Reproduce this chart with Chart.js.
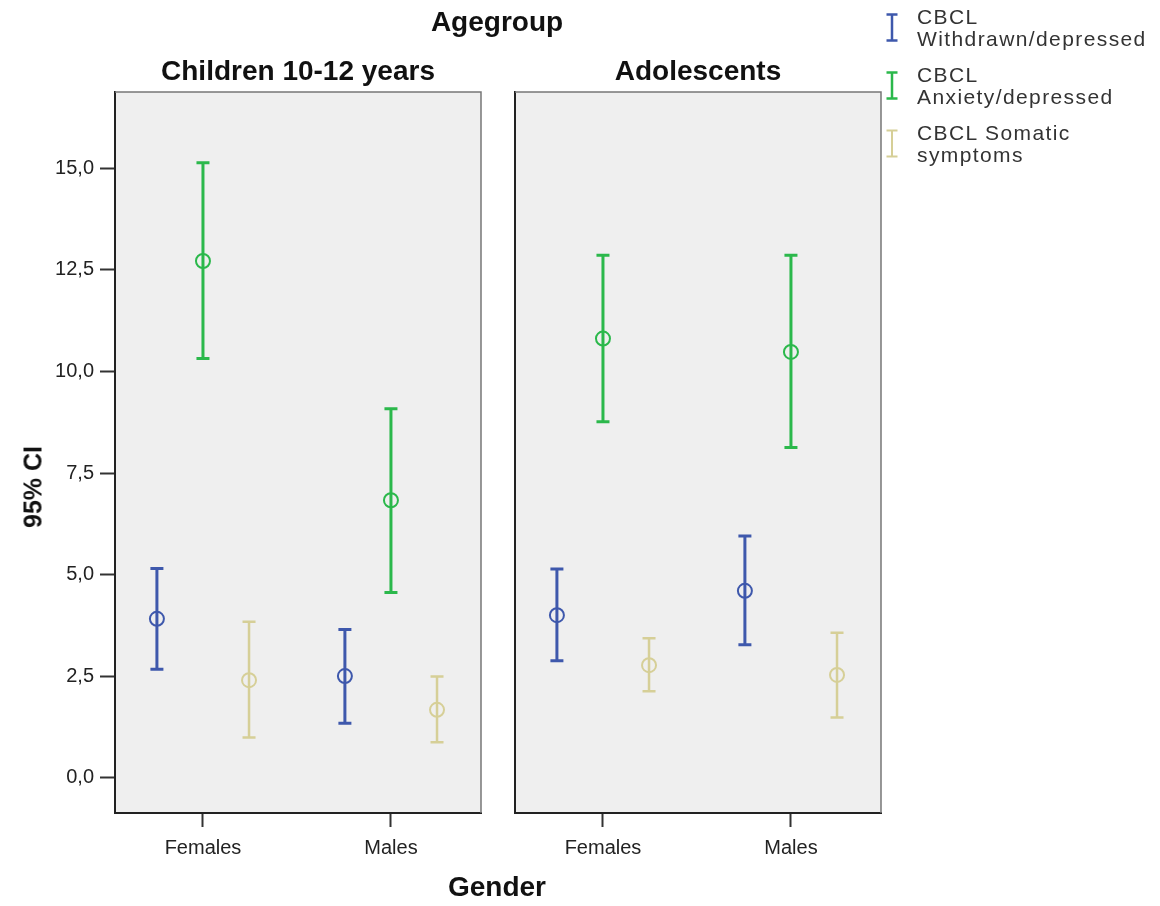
<!DOCTYPE html>
<html>
<head>
<meta charset="utf-8">
<script src="https://cdn.jsdelivr.net/npm/chart.js@4.4.1/dist/chart.umd.min.js"></script>
<style>
  body { margin: 0; background: #fff; }
  #wrap { position: relative; width: 1160px; height: 906px; font-family: "Liberation Sans", Arial, sans-serif; }
  #wrap canvas { position: absolute; top: 0; }
  .t { position: absolute; font-weight: bold; color: #111; white-space: nowrap; line-height: 1; transform: translate(-50%, -50%); }
  .item { position: absolute; left: 885px; }
  .item svg { position: absolute; left: 0; top: 6px; }
  .item span { position: absolute; left: 32px; top: 0; width: 240px; font-size: 21px; line-height: 22px; letter-spacing: 1.4px; color: #333; }
</style>
</head>
<body>
<div id="wrap">
  <canvas id="left" width="490" height="906" style="left:0"></canvas>
  <canvas id="right" width="400" height="906" style="left:490px"></canvas>
  <div class="t" style="left:497px;top:22px;font-size:28px">Agegroup</div>
  <div class="t" id="p0" style="left:298px;top:71px;font-size:28px"></div>
  <div class="t" id="p1" style="left:698px;top:71px;font-size:28px"></div>
  <div class="t" style="left:33px;top:487px;font-size:25px;transform:translate(-50%,-50%) rotate(-90deg)">95% CI</div>
  <div class="t" style="left:497px;top:887px;font-size:28px">Gender</div>
  <div id="legend"></div>
</div>
<script>
const categories = ['Females', 'Males'];
const panels = ['Children 10-12 years', 'Adolescents'];
const seriesNames = ['CBCL Withdrawn/depressed', 'CBCL Anxiety/depressed', 'CBCL Somatic symptoms'];
const seriesColors = ['#3e58ac', '#2bb84b', '#d6cf97'];
const yTicks = [0, 2.5, 5, 7.5, 10, 12.5, 15];

// per series: [Females, Males]
const childMean = [[3.91, 2.50], [12.72, 6.83], [2.40, 1.67]];
const childLow = [[2.67, 1.34], [10.32, 4.56], [0.99, 0.87]];
const childHigh = [[5.15, 3.65], [15.14, 9.08], [3.84, 2.49]];

const adolMean = [[4.00, 4.60], [10.81, 10.48], [2.77, 2.53]];
const adolLow = [[2.88, 3.27], [8.76, 8.13], [2.13, 1.48]];
const adolHigh = [[5.14, 5.95], [12.86, 12.86], [3.43, 3.57]];

const offsets = [-0.245, 0, 0.245];
const lineWidths = [3, 3, 2.5];
const fontFamily = '"Liberation Sans", Arial, sans-serif';

document.getElementById('p0').textContent = panels[0];
document.getElementById('p1').textContent = panels[1];

const panelFrame = {
    id: 'panelFrame',
    beforeDraw(chart) {
        const a = chart.chartArea;
        const ctx = chart.ctx;
        ctx.save();
        ctx.fillStyle = '#efefef';
        ctx.fillRect(a.left, a.top, a.right - a.left, a.bottom - a.top);
        ctx.restore();
    },
    afterDraw(chart) {
        const a = chart.chartArea;
        const ctx = chart.ctx;
        ctx.save();
        ctx.strokeStyle = '#777';
        ctx.lineWidth = 1.5;
        ctx.beginPath();
        ctx.moveTo(a.left, a.top);
        ctx.lineTo(a.right, a.top);
        ctx.lineTo(a.right, a.bottom);
        ctx.stroke();
        ctx.restore();
    }
};

const errorBars = {
    id: 'errorBars',
    beforeDatasetsDraw(chart) {
        const ctx = chart.ctx;
        const y = chart.scales.y;
        chart.data.datasets.forEach((ds, i) => {
            const meta = chart.getDatasetMeta(i);
            ctx.save();
            ctx.strokeStyle = ds.borderColor;
            ctx.lineWidth = ds.barWidth;
            meta.data.forEach((pt, j) => {
                const yl = y.getPixelForValue(ds.low[j]);
                const yh = y.getPixelForValue(ds.high[j]);
                ctx.beginPath();
                ctx.moveTo(pt.x, yl);
                ctx.lineTo(pt.x, yh);
                ctx.moveTo(pt.x - 6.5, yl);
                ctx.lineTo(pt.x + 6.5, yl);
                ctx.moveTo(pt.x - 6.5, yh);
                ctx.lineTo(pt.x + 6.5, yh);
                ctx.stroke();
            });
            ctx.restore();
        });
    }
};

function makePanel(id, mean, low, high, showY) {
    const datasets = seriesNames.map((name, s) => ({
        label: name,
        data: categories.map((c, i) => ({ x: i + offsets[s], y: mean[s][i] })),
        low: low[s],
        high: high[s],
        barWidth: lineWidths[s],
        borderColor: seriesColors[s],
        backgroundColor: 'rgba(0,0,0,0)',
        borderWidth: 2,
        pointRadius: 7,
        showLine: false
    }));
    return new Chart(document.getElementById(id).getContext('2d'), {
        type: 'scatter',
        data: { datasets: datasets },
        plugins: [panelFrame, errorBars],
        options: {
            responsive: false,
            animation: false,
            events: [],
            layout: { padding: { top: 92, right: 9, bottom: 33, left: 0 } },
            plugins: {
                legend: { display: false },
                tooltip: { enabled: false }
            },
            scales: {
                x: {
                    type: 'linear',
                    min: -0.468,
                    max: 1.479,
                    afterBuildTicks: s => { s.ticks = categories.map((c, i) => ({ value: i })); },
                    afterFit: s => { s.height = 60; },
                    grid: { drawOnChartArea: false, drawTicks: true, tickLength: 14, tickWidth: 2, tickColor: '#333' },
                    border: { color: '#222', width: 2 },
                    ticks: {
                        color: '#222',
                        font: { family: fontFamily, size: 20 },
                        padding: 9,
                        maxRotation: 0,
                        autoSkip: false,
                        callback: v => categories[v]
                    }
                },
                y: {
                    min: -0.87,
                    max: 16.88,
                    afterBuildTicks: s => { s.ticks = yTicks.map(v => ({ value: v })); },
                    afterFit: s => { s.width = showY ? 115 : 25; },
                    grid: { drawOnChartArea: false, drawTicks: showY, tickLength: 15, tickWidth: 2, tickColor: '#333' },
                    border: { color: '#222', width: 2 },
                    ticks: {
                        display: showY,
                        color: '#222',
                        font: { family: fontFamily, size: 20 },
                        padding: 6,
                        callback: v => v.toFixed(1).replace('.', ',')
                    }
                }
            }
        }
    });
}

const childChart = makePanel('left', childMean, childLow, childHigh, true);
const adolChart = makePanel('right', adolMean, adolLow, adolHigh, false);

const legend = document.getElementById('legend');
seriesNames.forEach((name, i) => {
    const item = document.createElement('div');
    item.className = 'item';
    item.style.top = (6 + i * 58) + 'px';
    item.innerHTML = '<svg width="14" height="32"><path d="M1.5 2.5H12.5M7 2.5V28.5M1.5 28.5H12.5" stroke="' +
        seriesColors[i] + '" stroke-width="' + (lineWidths[i] - 0.5) + '" fill="none"/></svg><span></span>';
    item.querySelector('span').textContent = name;
    legend.appendChild(item);
});
</script>
</body>
</html>
